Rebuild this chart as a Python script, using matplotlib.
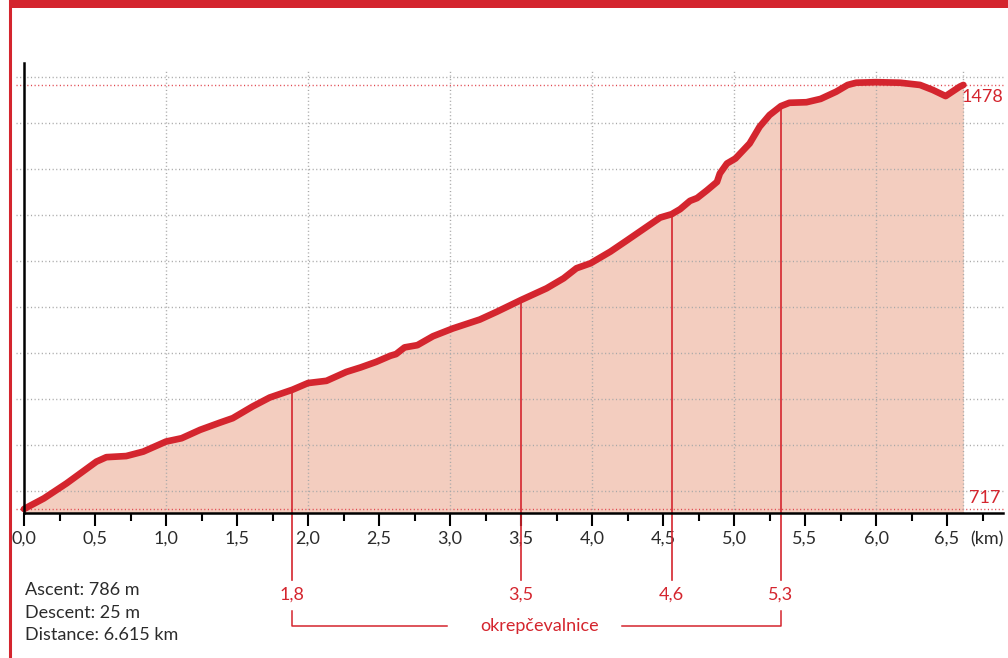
import numpy as np
import matplotlib
matplotlib.use("Agg")
import matplotlib.pyplot as plt
from matplotlib.lines import Line2D
from matplotlib.patches import Rectangle

plt.rcParams["font.family"] = ["Lato", "DejaVu Sans"]

# -----------------------
# Data
# -----------------------
dist_km = [0.00, 0.14, 0.30, 0.51, 0.58, 0.72, 0.84, 1.00, 1.11, 1.24, 1.38, 1.47,
           1.61, 1.73, 1.89, 2.00, 2.13, 2.27, 2.37, 2.48, 2.58, 2.62, 2.68, 2.77,
           2.88, 3.02, 3.21, 3.33, 3.50, 3.68, 3.80, 3.89, 3.99, 4.13, 4.24, 4.36,
           4.48, 4.56, 4.62, 4.69, 4.74, 4.81, 4.88, 4.90, 4.95, 5.01, 5.11, 5.18,
           5.25, 5.33, 5.39, 5.51, 5.61, 5.72, 5.80, 5.86, 6.00, 6.17, 6.31, 6.40,
           6.49, 6.59, 6.615]
elev_m = [717, 736, 763, 802, 810, 812, 820, 838, 844, 859, 872, 880,
          901, 917, 931, 943, 947, 963, 971, 981, 992, 995, 1007, 1011,
          1027, 1041, 1057, 1071, 1092, 1113, 1131, 1149, 1158, 1179, 1198, 1219,
          1240, 1246, 1255, 1270, 1275, 1289, 1304, 1319, 1337, 1346, 1373, 1403,
          1424, 1440, 1446, 1447, 1453, 1466, 1478, 1482, 1483, 1482, 1478, 1469,
          1458, 1475, 1478]

elev_min = 717
elev_max = 1478
total_km = 6.615

grid_elev = [750, 832, 915, 997, 1080, 1162, 1245, 1327, 1410, 1492]
grid_km = [1, 2, 3, 4, 5, 6, total_km]

major_ticks = [0.0, 0.5, 1.0, 1.5, 2.0, 2.5, 3.0, 3.5, 4.0, 4.5, 5.0, 5.5, 6.0, 6.5]
major_labels = ["0,0", "0,5", "1,0", "1,5", "2,0", "2,5", "3,0", "3,5",
                "4,0", "4,5", "5,0", "5,5", "6,0", "6,5"]
minor_ticks = [0.25, 0.75, 1.25, 1.75, 2.25, 2.75, 3.25, 3.75, 4.25, 4.75,
               5.25, 5.75, 6.25, 6.75]

# refreshment stations (okrepčevalnice)
station_km = [1.89, 3.50, 4.56, 5.33]
station_labels = ["1,8", "3,5", "4,6", "5,3"]

stats_lines = ["Ascent: 786 m", "Descent: 25 m", "Distance: 6.615 km"]

# -----------------------
# Style
# -----------------------
RED = "#d4252e"
FILL = "#f3cdbf"
GRID = "#a8a8a8"
TXT = "#2b2b2b"
FS = 13

fig = plt.figure(figsize=(10.08, 6.58), dpi=100)
ax = fig.add_axes([24 / 1008, 145 / 658, 979 / 1008, 450 / 658])
ax.set_xlim(0, 6.894)
ax.set_ylim(709.8, 1517.4)

for s in ["top", "right"]:
    ax.spines[s].set_visible(False)
ax.spines["left"].set_linewidth(1.8)
ax.spines["bottom"].set_linewidth(1.8)
ax.spines["left"].set_zorder(6)
ax.spines["bottom"].set_zorder(6)

# fill under profile
ax.fill_between(dist_km, elev_m, 709.8, color=FILL, lw=0, zorder=1)

# horizontal dotted grid (runs a bit left of the axis)
dots = (0, (0.8, 1.8))
for g in grid_elev:
    ax.plot([-0.056, 6.894], [g, g], ls=dots, lw=1.0, color=GRID,
            clip_on=False, zorder=2)
for g in [elev_min, elev_max]:
    ax.plot([-0.056, 6.894], [g, g], ls=dots, lw=1.0, color="#e0474f",
            clip_on=False, zorder=2)
for g in grid_km:
    ax.plot([g, g], [709.8, 1503], ls=dots, lw=1.0, color=GRID,
            clip_on=False, zorder=2)

# station markers
xtrans = ax.get_xaxis_transform()
for k, lab in zip(station_km, station_labels):
    top = np.interp(k, dist_km, elev_m)
    top_frac = (top - 709.8) / (1517.4 - 709.8)
    ax.plot([k, k], [top_frac, -0.149], color=RED, lw=1.2, transform=xtrans,
            clip_on=False, zorder=3)
    ax.text(k, -0.182, lab, color=RED, fontsize=FS, ha="center", va="center",
            transform=xtrans)

# bracket + label
left_end = 2.98
right_start = 4.21
ax.plot([station_km[0], station_km[0], left_end], [-0.218, -0.251, -0.251],
        color=RED, lw=1.1, transform=xtrans, clip_on=False)
ax.plot([right_start, station_km[-1], station_km[-1]], [-0.251, -0.251, -0.218],
        color=RED, lw=1.1, transform=xtrans, clip_on=False)
ax.text((station_km[0] + station_km[-1]) / 2 + 0.02, -0.251, "okrepčevalnice",
        color=RED, fontsize=FS, ha="center", va="center", transform=xtrans)

# profile line
ax.plot(dist_km, elev_m, color=RED, lw=4.8, solid_joinstyle="round",
        solid_capstyle="round", zorder=5, clip_on=False)

# end labels
ax.text(total_km - 0.01, 1456, str(elev_max), color=RED, fontsize=FS,
        ha="left", va="center")
ax.text(6.875, 737, str(elev_min), color=RED, fontsize=FS, ha="right", va="center")

# ticks
ax.set_yticks([])
ax.set_xticks(major_ticks)
ax.set_xticklabels(major_labels)
ax.set_xticks(minor_ticks, minor=True)
ax.tick_params(axis="x", which="major", length=9.4, width=1.5, color="black",
               labelsize=FS, labelcolor=TXT, pad=3)
ax.tick_params(axis="x", which="minor", length=5.8, width=1.5, color="black")
ax.text(6.78, -0.058, "(km)", color=TXT, fontsize=FS, ha="center", va="center",
        transform=xtrans)

# stats
for i, line in enumerate(stats_lines):
    fig.text(25 / 1008, (658 - 590 - 22.7 * i) / 658, line, color=TXT,
             fontsize=FS, ha="left", va="center")

# red frame
fig.patches.append(Rectangle((9 / 1008, (658 - 7.5) / 658), 1, 7.5 / 658,
                             transform=fig.transFigure, color=RED, lw=0))
fig.lines.append(Line2D([10 / 1008, 10 / 1008], [0, 1], transform=fig.transFigure,
                        color=RED, lw=2.2))

fig.savefig("out.png", dpi=100)
